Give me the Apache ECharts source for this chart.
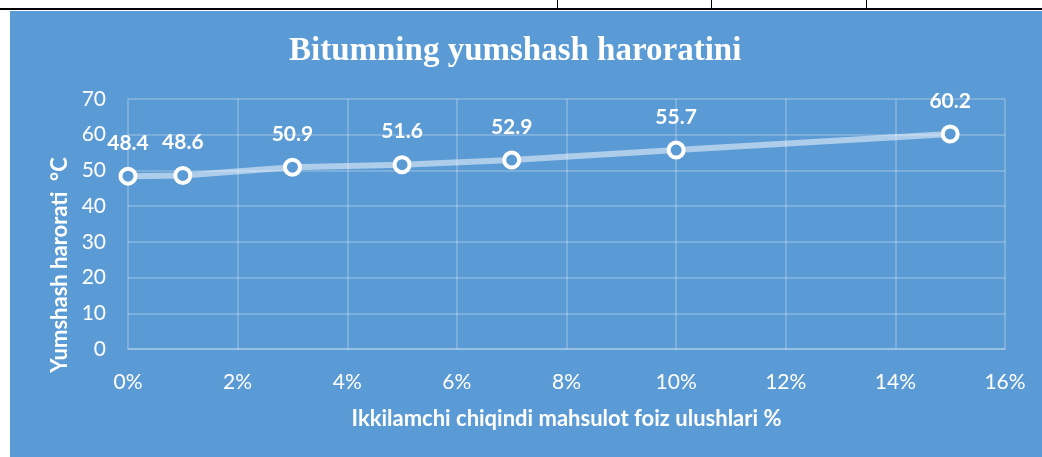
<!DOCTYPE html>
<html>
<head>
<meta charset="utf-8">
<title>Bitumning yumshash haroratini</title>
<script src="https://cdn.jsdelivr.net/npm/echarts@6/dist/echarts.min.js"></script>
<style>
	html,body{margin:0;padding:0;background:#fff;overflow:hidden;}
	#page{position:relative;width:1042px;height:457px;}
	#topLine{position:absolute;left:0;top:8px;width:1042px;height:2px;background:#000;}
	.cell{position:absolute;top:0;width:1px;height:9px;background:#000;}
	#mainChart{position:absolute;left:10px;top:11px;width:1032px;height:446px;background:#5b9bd5;}
</style>
</head>
<body>
<div id="page">
	<div id="topLine"></div>
	<div class="cell" style="left:557px"></div>
	<div class="cell" style="left:711px"></div>
	<div class="cell" style="left:866px"></div>
	<div id="mainChart"></div>
</div>
<script>
// foiz ulushlari (%) va yumshash harorati (C)
var shares = [0, 1, 3, 5, 7, 10, 15];
var temps = [48.4, 48.6, 50.9, 51.6, 52.9, 55.7, 60.2];

var gridColor = 'rgba(255,255,255,0.28)';
var labelFont = 'Lato, "Noto Sans", sans-serif';

var points = [];
for (var i = 0; i < shares.length; i++) {
	points.push([shares[i], temps[i]]);
}

var myChart = echarts.init(document.getElementById("mainChart"));
var option = {
	backgroundColor: '#5b9bd5',
	title: {
		text: 'Bitumning yumshash haroratini',
		left: 274,
		top: 19,
		textStyle: {
			color: '#fff',
			fontFamily: '"Liberation Serif", "DejaVu Serif", serif',
			fontWeight: 'bold',
			fontSize: 33
		}
	},
	grid: {
		left: 118,
		right: 37,
		top: 88,
		bottom: 108
	},
	xAxis: {
		type: 'value',
		min: 0,
		max: 16,
		interval: 2,
		name: 'Ikkilamchi chiqindi mahsulot foiz ulushlari %',
		nameLocation: 'middle',
		nameGap: 59,
		nameTextStyle: {
			color: '#fff',
			fontFamily: labelFont,
			fontWeight: 'bold',
			fontSize: 22
		},
		axisLine: { show: true, lineStyle: { color: gridColor, width: 1.5 } },
		axisTick: { show: false },
		axisLabel: {
			color: '#fff',
			fontFamily: labelFont,
			fontSize: 21,
			margin: 23,
			formatter: '{value}%'
		},
		splitLine: { show: true, lineStyle: { color: gridColor, width: 1.5 } }
	},
	yAxis: {
		type: 'value',
		min: 0,
		max: 70,
		interval: 10,
		name: 'Yumshash harorati  °C',
		nameLocation: 'middle',
		nameGap: 55,
		nameRotate: 90,
		nameTextStyle: {
			color: '#fff',
			fontFamily: labelFont,
			fontWeight: 'bold',
			fontSize: 22,
			padding: [0, 82, 0, 0]
		},
		axisLine: { show: false },
		axisTick: { show: false },
		axisLabel: {
			color: '#fff',
			fontFamily: labelFont,
			fontSize: 21,
			margin: 22
		},
		splitLine: { show: true, lineStyle: { color: gridColor, width: 1.5 } }
	},
	series: [{
		name: 'Yumshash harorati',
		type: 'line',
		data: points,
		symbol: 'circle',
		symbolSize: 15,
		lineStyle: { color: 'rgba(255,255,255,0.5)', width: 6 },
		itemStyle: { color: '#5b9bd5', borderColor: '#fff', borderWidth: 4 },
		label: {
			show: true,
			position: 'top',
			distance: 13,
			color: '#fff',
			fontFamily: labelFont,
			fontWeight: 'bold',
			fontSize: 21
		},
		z: 3
	}],
	animation: false
};
myChart.setOption(option);
window.onresize = myChart.resize;
</script>
</body>
</html>
